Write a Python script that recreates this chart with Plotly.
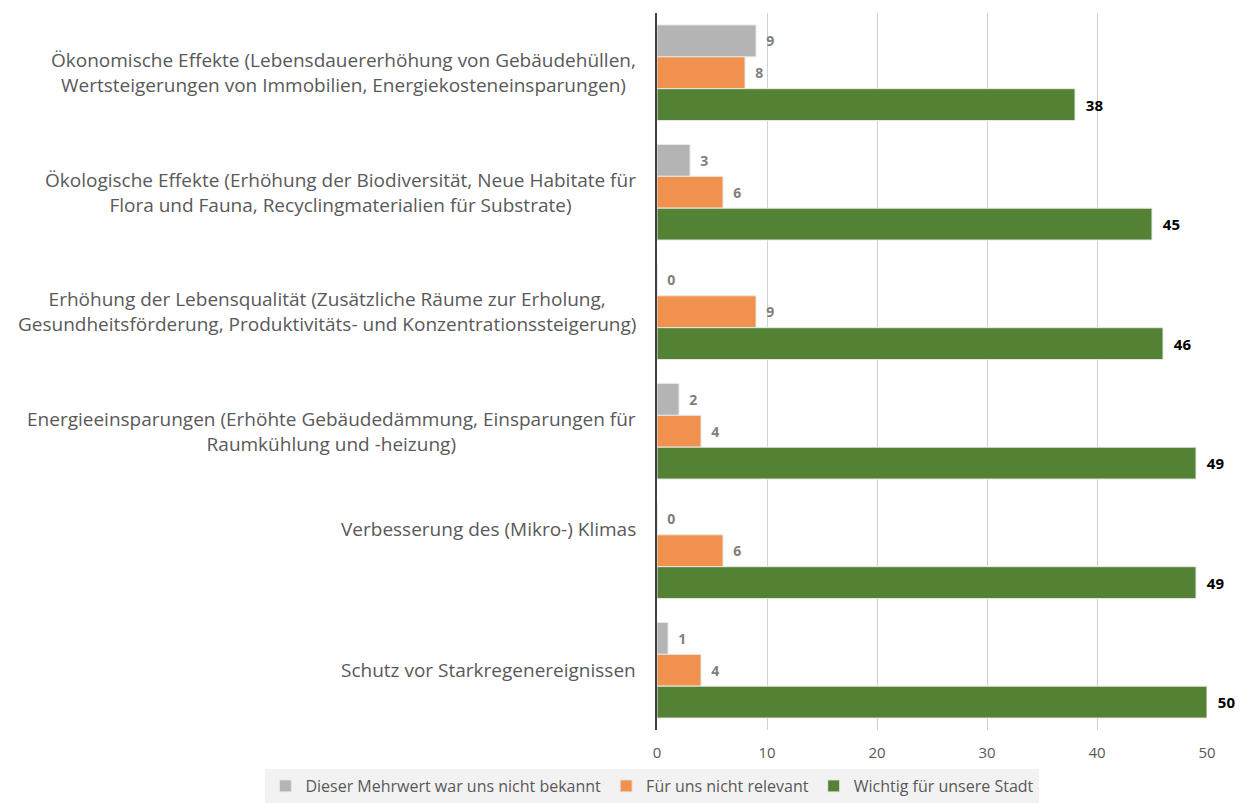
import plotly.graph_objects as go

categories = [
    "Ökonomische Effekte (Lebensdauererhöhung von Gebäudehüllen,<br>Wertsteigerungen von Immobilien, Energiekosteneinsparungen)",
    "Ökologische Effekte (Erhöhung der Biodiversität, Neue Habitate für<br>Flora und Fauna, Recyclingmaterialien für Substrate)",
    "Erhöhung der Lebensqualität (Zusätzliche Räume zur Erholung,<br>Gesundheitsförderung, Produktivitäts- und Konzentrationssteigerung)",
    "Energieeinsparungen (Erhöhte Gebäudedämmung, Einsparungen für<br>Raumkühlung und -heizung)",
    "Verbesserung des (Mikro-) Klimas",
    "Schutz vor Starkregenereignissen",
]
keys = ["c1", "c2", "c3", "c4", "c5", "c6"]

series_names = [
    "Dieser Mehrwert war uns nicht bekannt",
    "Für uns nicht relevant",
    "Wichtig für unsere Stadt",
]
unbekannt = [9, 3, 0, 2, 0, 1]
nicht_relevant = [8, 6, 9, 4, 6, 4]
wichtig = [38, 45, 46, 49, 49, 50]

x_ticks = [0, 10, 20, 30, 40, 50]

colors = ["#b4b4b4", "#f0914e", "#548235"]
label_colors = ["#7f7f7f", "#7f7f7f", "#000000"]
label_sizes = [14, 14, 15]
# vertical nudges of the category labels (style only)
label_yshift = [0, 0, 0, 0, 22, 0]

FONT = "Open Sans"

fig = go.Figure()
for name, vals, col, lcol, lsz in zip(series_names, [unbekannt, nicht_relevant, wichtig], colors, label_colors, label_sizes):
    fig.add_trace(go.Bar(
        y=keys, x=vals, name=name, orientation="h",
        marker=dict(color=col, line=dict(color="#e8e8e8", width=1)),
        text=[f"\u00a0\u00a0{v}" for v in vals],
        textposition="outside",
        constraintext="none",
        textfont=dict(family=FONT, size=lsz, color=lcol, weight="bold"),
        cliponaxis=False,
    ))

for k, cat, ys in zip(keys, categories, label_yshift):
    fig.add_annotation(
        x=0, xref="paper", y=k, yref="y", text=cat, showarrow=False,
        xanchor="right", yanchor="middle", align="center", xshift=-19, yshift=ys,
        font=dict(family=FONT, size=19, color="#595959"),
    )

fig.update_layout(
    width=1246, height=803,
    margin=dict(l=657, r=39, t=13, b=73, autoexpand=False),
    paper_bgcolor="white", plot_bgcolor="white",
    barmode="group", bargap=0.2, bargroupgap=0,
    font=dict(family=FONT, color="#595959"),
    xaxis=dict(range=[0, 50], tickvals=x_ticks, showgrid=True, gridcolor="#d0d0d0",
               gridwidth=1, zeroline=False, ticks="", ticklabelstandoff=12,
               tickfont=dict(family=FONT, size=15, color="#595959")),
    yaxis=dict(categoryorder="array", categoryarray=keys, autorange="reversed",
               showticklabels=False, showline=True, linecolor="#404040", linewidth=2,
               showgrid=False, ticks=""),
    legend=dict(orientation="h", x=-0.712, xanchor="left", y=-0.1018, yanchor="bottom",
                bgcolor="#f2f2f2", font=dict(family=FONT, size=16, color="#595959"),
                traceorder="normal"),
    showlegend=True,
)

fig.write_html("out.html", config={"displayModeBar": False},
               post_script="document.body.style.margin='0';document.body.style.overflow='hidden';")
